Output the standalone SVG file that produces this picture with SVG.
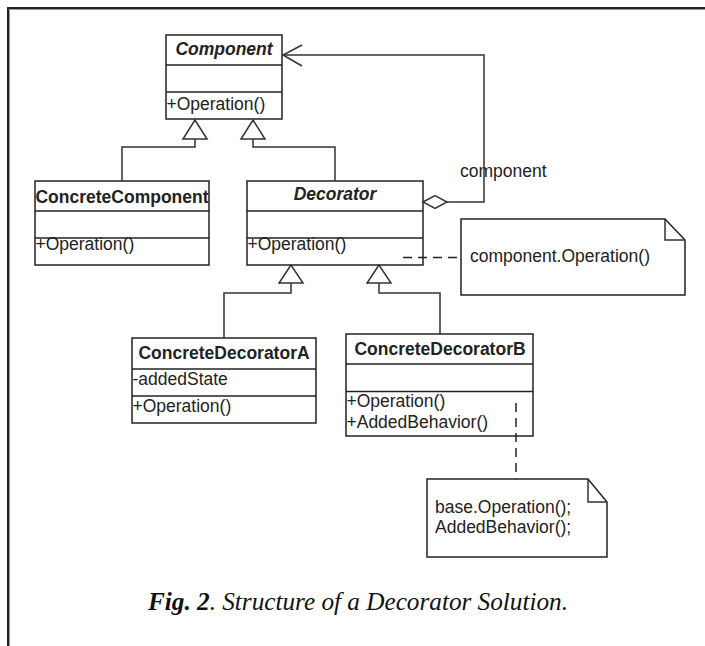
<svg xmlns="http://www.w3.org/2000/svg" width="705" height="646" viewBox="0 0 705 646">
<style>
.box{fill:#fff;stroke:#222;stroke-width:1.5}
.div{stroke:#222;stroke-width:1.5}
.t{font-family:"Liberation Sans",Arial,sans-serif;font-size:17.5px;fill:#222}
.b{font-weight:bold}
.i{font-style:italic}
.ln{fill:none;stroke:#333;stroke-width:1.5}
.dash{fill:none;stroke:#222;stroke-width:1.5;stroke-dasharray:9,6}
.tri{fill:#fff;stroke:#333;stroke-width:1.5}
.note{fill:#fff;stroke:#222;stroke-width:1.5}
.cap{font-family:"Liberation Serif","Times New Roman",serif;font-size:25px;font-style:italic;fill:#111}
</style>
<rect width="705" height="646" fill="#fff"/>
<g id="frame">
<path d="M8,646 V8 H705" fill="none" stroke="#222" stroke-width="2"/>
<path d="M9.5,646 V9.5 H705" fill="none" stroke="#999" stroke-width="1"/>
</g>
<g id="Component">
<rect class="box" x="166" y="35" width="116" height="84"/>
<line class="div" x1="166" y1="65" x2="282" y2="65"/>
<line class="div" x1="166" y1="92" x2="282" y2="92"/>
<text class="t b i" x="224" y="55" text-anchor="middle">Component</text>
<text class="t" x="166.5" y="109.5">+Operation()</text>
</g>
<g id="ConcreteComponent">
<rect class="box" x="35" y="181" width="174" height="84"/>
<line class="div" x1="35" y1="211" x2="209" y2="211"/>
<line class="div" x1="35" y1="238" x2="209" y2="238"/>
<text class="t b" x="122" y="203" text-anchor="middle">ConcreteComponent</text>
<text class="t" x="35.5" y="250">+Operation()</text>
</g>
<g id="Decorator">
<rect class="box" x="247" y="181" width="176" height="84"/>
<line class="div" x1="247" y1="211" x2="423" y2="211"/>
<line class="div" x1="247" y1="238" x2="423" y2="238"/>
<text class="t b i" x="335" y="200" text-anchor="middle">Decorator</text>
<text class="t" x="247.5" y="250">+Operation()</text>
</g>
<g id="ConcreteDecoratorA">
<rect class="box" x="132" y="338" width="184" height="85"/>
<line class="div" x1="132" y1="369" x2="316" y2="369"/>
<line class="div" x1="132" y1="396" x2="316" y2="396"/>
<text class="t b" x="224" y="359" text-anchor="middle">ConcreteDecoratorA</text>
<text class="t" x="132.5" y="385">-addedState</text>
<text class="t" x="132.5" y="411.5">+Operation()</text>
</g>
<g id="ConcreteDecoratorB">
<rect class="box" x="346" y="334" width="187" height="102"/>
<line class="div" x1="346" y1="364" x2="533" y2="364"/>
<line class="div" x1="346" y1="391.5" x2="533" y2="391.5"/>
<text class="t b" x="440" y="355" text-anchor="middle">ConcreteDecoratorB</text>
<text class="t" x="346.5" y="407">+Operation()</text>
<text class="t" x="346.5" y="428">+AddedBehavior()</text>
</g>
<g id="note1">
<path class="note" d="M461,219 H665 L685,240 V295 H461 Z"/>
<path class="ln" d="M665,219 V240 H685"/>
<text class="t" x="470" y="262">component.Operation()</text>
</g>
<g id="note2">
<path class="note" d="M427,479 H588 L607,502 V557 H427 Z"/>
<path class="ln" d="M588,479 V502 H607"/>
<text class="t" x="435" y="513">base.Operation();</text>
<text class="t" x="435" y="533">AddedBehavior();</text>
</g>
<g id="connectors">
<polyline class="ln" points="122,181 122,147 195,147 195,139"/>
<polygon class="tri" points="195,120 183,139 207,139"/>
<polyline class="ln" points="335,181 335,147 253,147 253,139"/>
<polygon class="tri" points="253,120 241,139 265,139"/>
<polyline class="ln" points="224,338 224,293 291,293 291,283"/>
<polygon class="tri" points="291,265 279,283 303,283"/>
<polyline class="ln" points="440,334 440,293 379,293 379,283"/>
<polygon class="tri" points="379,265 367,283 391,283"/>
<polyline class="ln" points="447,202 484,202 484,55 283,55"/>
<polyline class="ln" points="302,45 283,55 302,66"/>
<polygon class="tri" points="423,202 435,195.5 447,202 435,208.5"/>
<text class="t" x="460" y="177">component</text>
<line class="dash" x1="403" y1="257.5" x2="461" y2="257.5"/>
<line class="dash" x1="516" y1="403" x2="516" y2="479"/>
</g>
<g id="caption">
<text class="cap" x="148" y="610" textLength="420" lengthAdjust="spacingAndGlyphs"><tspan font-weight="bold">Fig. 2</tspan>. Structure of a Decorator Solution.</text>
</g>
</svg>
